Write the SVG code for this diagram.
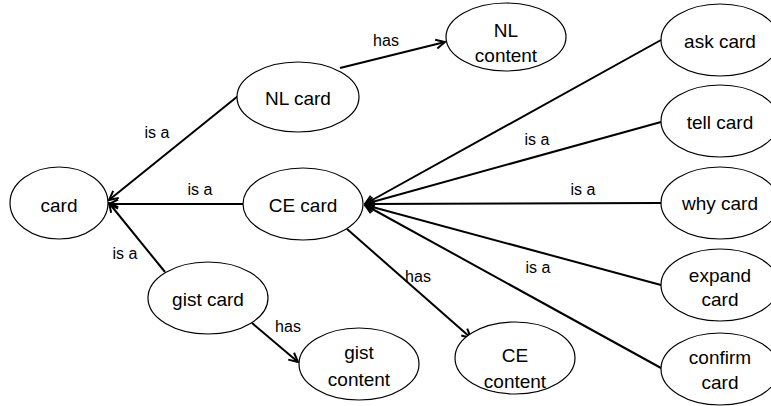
<svg xmlns="http://www.w3.org/2000/svg" width="771" height="406" viewBox="0 0 771 406">
<defs>
<style>
.node ellipse{fill:#fff;stroke:#000;stroke-width:1.2}
.node text{font-family:"Liberation Sans",Arial,sans-serif;font-size:19px;fill:#000;text-anchor:middle}
.edge line{stroke:#000;stroke-width:2;marker-end:url(#arr)}
.lbl{font-family:"Liberation Sans",Arial,sans-serif;font-size:16px;fill:#000;text-anchor:middle}
</style>
<marker id="arr" viewBox="0 0 12 12" markerWidth="12" markerHeight="12" refX="11" refY="6" orient="auto" markerUnits="userSpaceOnUse">
<path d="M2,1.5 L11,6 L2,10.5" fill="none" stroke="#000" stroke-width="2"/>
</marker>
</defs>
<rect width="771" height="406" fill="#fff"/>
<g id="connectors">
<g class="edge">
<line x1="238" y1="96" x2="109" y2="200"/>
<line x1="243" y1="204" x2="109" y2="204"/>
<line x1="165" y1="272" x2="109" y2="203"/>
<line x1="252" y1="323" x2="298" y2="362"/>
<line x1="340" y1="68" x2="445" y2="42"/>
<line x1="347" y1="229" x2="471" y2="338"/>
<line x1="661" y1="40" x2="365" y2="204"/>
<line x1="661" y1="122" x2="365" y2="204"/>
<line x1="661" y1="203" x2="365" y2="204"/>
<line x1="661" y1="285" x2="365" y2="205"/>
<line x1="661" y1="368" x2="365" y2="205"/>
</g>
<text class="lbl" x="157" y="138">is a</text>
<text class="lbl" x="200" y="195">is a</text>
<text class="lbl" x="125" y="259">is a</text>
<text class="lbl" x="288" y="332">has</text>
<text class="lbl" x="386" y="46">has</text>
<text class="lbl" x="418" y="282">has</text>
<text class="lbl" x="537" y="145">is a</text>
<text class="lbl" x="583" y="195">is a</text>
<text class="lbl" x="538" y="273">is a</text>
</g>
<g id="card" class="node"><ellipse cx="59" cy="203" rx="49" ry="36"/><text x="59" y="212">card</text></g>
<g id="nl-card" class="node"><ellipse cx="298" cy="97" rx="61" ry="35"/><text x="298" y="105">NL card</text></g>
<g id="nl-content" class="node"><ellipse cx="506" cy="37" rx="60" ry="34"/><text x="506" y="37">NL</text><text x="506" y="62">content</text></g>
<g id="ce-card" class="node"><ellipse cx="303" cy="204" rx="60" ry="36"/><text x="303" y="212">CE card</text></g>
<g id="gist-card" class="node"><ellipse cx="208" cy="298" rx="60" ry="36"/><text x="208" y="306">gist card</text></g>
<g id="gist-content" class="node"><ellipse cx="359" cy="364" rx="60" ry="36"/><text x="359" y="359">gist</text><text x="359" y="386">content</text></g>
<g id="ce-content" class="node"><ellipse cx="515" cy="358" rx="60" ry="36"/><text x="515" y="362">CE</text><text x="515" y="388">content</text></g>
<g id="ask-card" class="node"><ellipse cx="720" cy="40" rx="59" ry="36"/><text x="720" y="48">ask card</text></g>
<g id="tell-card" class="node"><ellipse cx="720" cy="121" rx="59" ry="36"/><text x="720" y="129">tell card</text></g>
<g id="why-card" class="node"><ellipse cx="720" cy="203" rx="59" ry="36"/><text x="720" y="210">why card</text></g>
<g id="expand-card" class="node"><ellipse cx="720" cy="285" rx="59" ry="36"/><text x="720" y="282">expand</text><text x="720" y="306">card</text></g>
<g id="confirm-card" class="node"><ellipse cx="720" cy="369" rx="59" ry="36"/><text x="720" y="364">confirm</text><text x="720" y="389">card</text></g>
</svg>
